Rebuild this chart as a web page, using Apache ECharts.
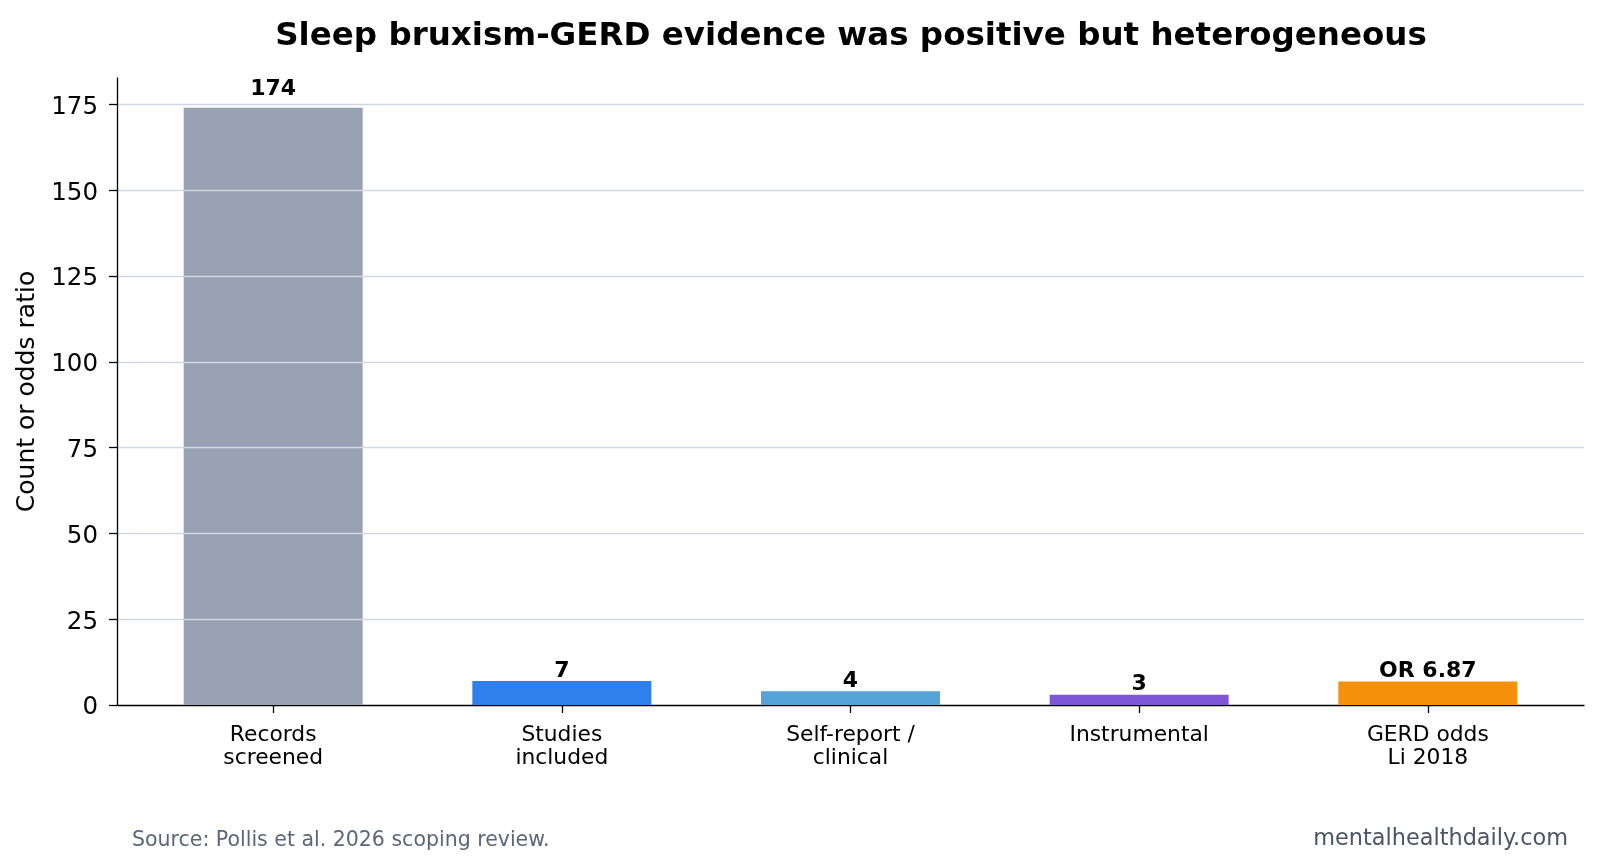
<!DOCTYPE html>
<html>
<head>
<meta charset="utf-8">
<title>Sleep bruxism-GERD evidence</title>
<script src="https://cdn.jsdelivr.net/npm/echarts@6/dist/echarts.min.js"></script>
<style>
  html, body { margin: 0; padding: 0; background: #fff; }
  #chart { width: 1601px; height: 867px; }
</style>
</head>
<body>
<div id="chart"></div>
<script>
const categories = ['Records\nscreened', 'Studies\nincluded', 'Self-report /\nclinical', 'Instrumental', 'GERD odds\nLi 2018'];
const values = [174, 7, 4, 3, 6.87];
const valueLabels = ['174', '7', '4', '3', 'OR 6.87'];
const barColors = ['#98a2b3', '#2f80ed', '#56a3da', '#7f57d9', '#f5900a'];
const yTicks = [0, 25, 50, 75, 100, 125, 150, 175];
const xPositions = [0, 1, 2, 3, 4];

const font = 'DejaVu Sans';

const chart = echarts.init(document.getElementById('chart'));

const option = {
  backgroundColor: '#fff',
  animation: false,
  title: {
    text: 'Sleep bruxism-GERD evidence was positive but heterogeneous',
    left: 846,
    top: 15,
    textAlign: 'center',
    textStyle: {
      fontFamily: font,
      fontSize: 32.5,
      fontWeight: 'bold',
      color: '#000'
    }
  },
  grid: {
    left: 117,
    right: 17,
    top: 78,
    bottom: 162
  },
  xAxis: {
    type: 'value',
    min: -0.541,
    max: 4.541,
    splitLine: { show: false },
    axisLine: { lineStyle: { color: '#000', width: 1.3 } },
    axisTick: {
      customValues: xPositions,
      length: 8,
      lineStyle: { color: '#000', width: 1.3 }
    },
    axisLabel: {
      customValues: xPositions,
      formatter: v => categories[Math.round(v)],
      fontFamily: font,
      fontSize: 21.8,
      lineHeight: 23,
      color: '#000',
      margin: 19
    }
  },
  yAxis: {
    type: 'value',
    min: 0,
    max: 182.7,
    z: 5,
    name: 'Count or odds ratio',
    nameLocation: 'middle',
    nameGap: 73,
    nameTextStyle: {
      fontFamily: font,
      fontSize: 25,
      color: '#000'
    },
    axisLine: { show: true, onZero: false, lineStyle: { color: '#000', width: 1.3 } },
    axisTick: {
      show: true,
      customValues: yTicks,
      length: 8,
      lineStyle: { color: '#000', width: 1.3 }
    },
    axisLabel: {
      customValues: yTicks,
      formatter: v => '{t|' + v + '}',
      margin: 19,
      rich: {
        t: {
          fontFamily: font,
          fontSize: 24.5,
          color: '#000',
          padding: [6, 0, 0, 0]
        }
      }
    },
    splitLine: {
      show: true,
      showMinLine: false,
      showMaxLine: true,
      lineStyle: { color: '#d0d8e2', width: 1.3 }
    }
  },
  series: [{
    type: 'bar',
    barWidth: 179,
    data: values.map((v, i) => ({
      value: [xPositions[i], v],
      itemStyle: { color: barColors[i] },
      label: { distance: i === 0 ? 10 : 1 }
    })),
    label: {
      show: true,
      position: 'top',
      offset: [0, 2],
      formatter: p => valueLabels[p.dataIndex],
      fontFamily: font,
      fontSize: 22,
      fontWeight: 'bold',
      color: '#000'
    }
  }],
  graphic: [
    {
      type: 'text',
      left: 132,
      top: 830,
      style: {
        text: 'Source: Pollis et al. 2026 scoping review.',
        font: '20.5px "DejaVu Sans"',
        fill: '#5b6779'
      }
    },
    {
      type: 'text',
      right: 33,
      top: 828,
      style: {
        text: 'mentalhealthdaily.com',
        font: '22.4px "DejaVu Sans"',
        fill: '#4b5565'
      }
    }
  ]
};

chart.setOption(option);

window.addEventListener('resize', () => {
  chart.resize();
});
</script>
</body>
</html>
